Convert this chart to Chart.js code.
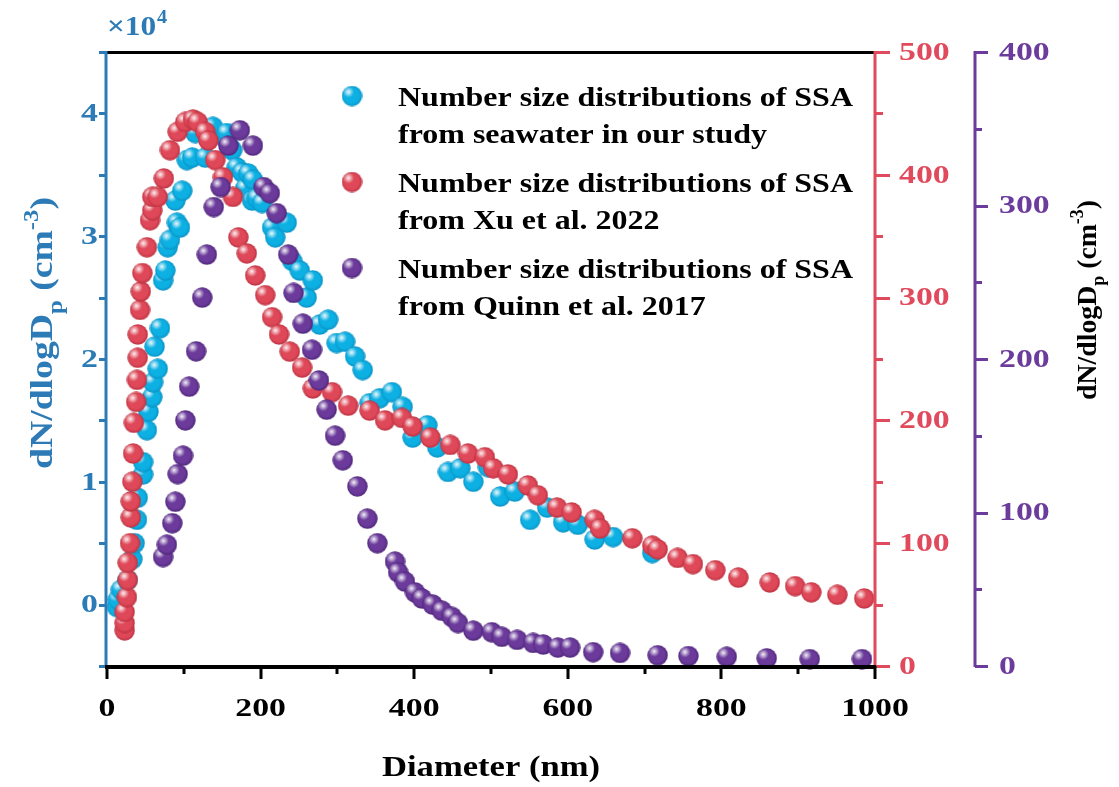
<!DOCTYPE html>
<html>
<head>
<meta charset="utf-8">
<script src="https://cdn.jsdelivr.net/npm/chart.js@4.4.1/dist/chart.umd.min.js"></script>
<style>
  html, body { margin: 0; padding: 0; background: #fff; }
</style>
</head>
<body>
<canvas id="sizeChart" width="1119" height="787"></canvas>
<script>
// SSA number size distributions (dN/dlogDp vs diameter)
// this study -> left axis (x10^4 cm-3), Xu 2022 -> red axis, Quinn 2017 -> purple axis
const seaDiam = [13, 14, 18, 27, 33, 36, 39, 40, 47, 47, 52, 54, 59, 60, 66, 62, 69, 73, 76, 79,
  82, 89, 91, 95, 98, 104, 111, 115, 128, 138, 154, 156, 160, 163, 169, 176, 180, 184, 189, 190,
  195, 202, 215, 219, 234, 241, 251, 260, 268, 277, 288, 299, 310, 323, 333, 342, 355, 371, 385, 398,
  417, 430, 444, 460, 477, 496, 512, 531, 551, 573, 594, 613, 635, 659, 710];
const seaConc = [-0.02, 0.04, 0.12, 0.20, 0.37, 0.50, 0.69, 0.87, 1.06, 1.16, 1.42, 1.57, 1.69, 1.81, 1.92, 2.10, 2.25, 2.64, 2.72, 2.91,
  2.97, 3.29, 3.11, 3.07, 3.37, 3.62, 3.64, 3.84, 3.64, 3.89, 3.80, 3.84, 3.72, 3.70, 3.56, 3.52, 3.39, 3.51, 3.29, 3.46,
  3.31, 3.27, 3.07, 2.99, 3.11, 2.80, 2.72, 2.50, 2.64, 2.28, 2.32, 2.13, 2.14, 2.02, 1.91, 1.64, 1.68, 1.73, 1.61, 1.36,
  1.46, 1.28, 1.08, 1.11, 1.00, 1.12, 0.88, 0.92, 0.69, 0.79, 0.67, 0.65, 0.53, 0.55, 0.42];

const xuDiam = [23, 23, 23, 26, 27, 27, 30, 31, 31, 33, 34, 35, 38, 39, 40, 40, 43, 44, 46, 52,
  56, 59, 59, 66, 74, 82, 92, 102, 112, 118, 128, 132, 141, 151, 164, 171, 182, 193, 206, 215,
  224, 238, 254, 268, 293, 314, 342, 362, 384, 398, 421, 447, 470, 492, 503, 522, 548, 561, 586, 605,
  635, 642, 684, 710, 717, 743, 763, 792, 822, 863, 896, 917, 951, 986];
const xuConc = [29, 35, 44, 56, 70, 84, 100, 121, 134, 150, 173, 198, 215, 233, 251, 270, 290, 305, 320, 341,
  363, 371, 382, 382, 397, 420, 435, 443, 445, 443, 435, 428, 412, 398, 382, 349, 336, 318, 302, 284,
  270, 256, 243, 226, 223, 212, 208, 200, 202, 195, 186, 180, 173, 170, 161, 156, 147, 139, 129, 125,
  119, 112, 104, 98, 95, 88, 83, 78, 72, 68, 65, 60, 58, 55];

const quinnDiam = [73, 78, 85, 89, 92, 99, 102, 107, 116, 124, 130, 139, 148, 158, 173, 190, 204, 212, 221, 236,
  243, 255, 267, 276, 286, 297, 307, 326, 339, 352, 375, 379, 388, 401, 410, 424, 436, 449, 457, 477,
  501, 514, 534, 555, 568, 587, 603, 633, 668, 717, 757, 807, 859, 915, 983];
const quinnConc = [71, 79, 93, 107, 125, 137, 160, 182, 205, 240, 268, 299, 312, 339, 349, 339, 312, 308, 295, 268,
  243, 223, 206, 186, 167, 150, 134, 117, 96, 80, 68, 61, 55, 48, 44, 40, 36, 32, 28, 23,
  22, 19, 17, 15, 14, 12, 12, 9, 8.5, 7, 6.5, 6, 5, 4.5, 4.5];

// axis ticks
const xTicks = [0, 200, 400, 600, 800, 1000];
const xMinor = [100, 300, 500, 700, 900];
const seaTicks = [0, 1, 2, 3, 4];
const seaMinor = [-0.5, 0.5, 1.5, 2.5, 3.5, 4.5];
const xuTicks = [0, 100, 200, 300, 400, 500];
const xuMinor = [50, 150, 250, 350, 450];
const quinnTicks = [0, 100, 200, 300, 400];
const quinnMinor = [50, 150, 250, 350];

const legendLines = [
  ['Number size distributions of SSA', 'from seawater in our study'],
  ['Number size distributions of SSA', 'from Xu et al. 2022'],
  ['Number size distributions of SSA', 'from Quinn et al. 2017']
];

const SEA_AXIS = '#2C7BB6';
const XU_AXIS = '#E04A5C';
const QUINN_AXIS = '#6B3C9B';
const SERIF = '"Liberation Serif", "Times New Roman", serif';

// shiny ball marker
function makeBall(base, shade) {
  const d = 21, r = d / 2;
  const c = document.createElement('canvas');
  c.width = d; c.height = d;
  const g = c.getContext('2d');
  const body = g.createRadialGradient(r - 2, r - 2, 1, r, r, r);
  body.addColorStop(0, base);
  body.addColorStop(0.7, base);
  body.addColorStop(1, shade);
  g.fillStyle = body;
  g.beginPath(); g.arc(r, r, r - 0.3, 0, Math.PI * 2); g.fill();
  const hl = g.createRadialGradient(r - 3.5, r - 4, 0, r - 3.5, r - 4, 5.5);
  hl.addColorStop(0, 'rgba(255,255,255,0.95)');
  hl.addColorStop(0.35, 'rgba(255,255,255,0.6)');
  hl.addColorStop(1, 'rgba(255,255,255,0)');
  g.fillStyle = hl;
  g.beginPath(); g.arc(r, r, r - 0.3, 0, Math.PI * 2); g.fill();
  return c;
}

const seaBall = makeBall('#0DB0E3', '#0A8FC2');
const xuBall = makeBall('#DF4858', '#B8303F');
const quinnBall = makeBall('#6B3A9B', '#4C2477');

function toPoints(xs, ys) {
  return xs.map((x, i) => ({ x: x, y: ys[i] }));
}

// text squeezed/stretched horizontally
function wideText(ctx, text, x, y, align, sx) {
  ctx.save();
  ctx.translate(x, y);
  ctx.scale(sx, 1);
  ctx.textAlign = align;
  ctx.fillText(text, 0, 0);
  ctx.restore();
}

// dN/dlogDp (cm-3) with subscript and superscript
function richTitle(ctx, cx, cy, size, length, color) {
  const parts = [
    { t: 'dN/dlogD', k: 1, dy: 0 },
    { t: 'p', k: 0.65, dy: 0.3 },
    { t: ' (cm', k: 1, dy: 0 },
    { t: '-3', k: 0.65, dy: -0.45 },
    { t: ')', k: 1, dy: 0 }
  ];
  ctx.save();
  ctx.fillStyle = color;
  ctx.textBaseline = 'alphabetic';
  ctx.textAlign = 'left';
  let total = 0;
  parts.forEach(p => {
    ctx.font = 'bold ' + Math.round(size * p.k) + 'px ' + SERIF;
    p.w = ctx.measureText(p.t).width;
    total += p.w;
  });
  const sx = length / total;
  ctx.translate(cx, cy);
  ctx.rotate(-Math.PI / 2);
  ctx.scale(sx, 1);
  let pos = -total / 2;
  parts.forEach(p => {
    ctx.font = 'bold ' + Math.round(size * p.k) + 'px ' + SERIF;
    ctx.fillText(p.t, pos, size * 0.35 + p.dy * size);
    pos += p.w;
  });
  ctx.restore();
}

function vTicks(ctx, scale, values, x, len) {
  ctx.beginPath();
  values.forEach(v => {
    const p = Math.round(scale.getPixelForValue(v)) + 0.5;
    ctx.moveTo(x, p); ctx.lineTo(x + len, p);
  });
  ctx.stroke();
}

const axisDecor = {
  id: 'axisDecor',
  afterDatasetsDraw(chart) {
    const { ctx, chartArea: a, scales } = chart;
    const sx = scales.x, ys = scales.ySea, yx = scales.yXu, yq = scales.yQuinn;
    const tickSx = 1.3;
    ctx.save();
    ctx.lineCap = 'butt';

    // top frame
    ctx.strokeStyle = '#000'; ctx.lineWidth = 3;
    ctx.beginPath(); ctx.moveTo(a.left, a.top + 0.5); ctx.lineTo(a.right, a.top + 0.5); ctx.stroke();

    // left axis (this study)
    ctx.strokeStyle = SEA_AXIS; ctx.lineWidth = 3;
    ctx.beginPath(); ctx.moveTo(a.left - 1, a.top - 1); ctx.lineTo(a.left - 1, a.bottom); ctx.stroke();
    vTicks(ctx, ys, seaTicks.concat(seaMinor), a.left - 1, -7);
    ctx.fillStyle = SEA_AXIS;
    ctx.font = 'bold 26px ' + SERIF;
    ctx.textBaseline = 'middle';
    seaTicks.forEach(v => wideText(ctx, String(v), 98, ys.getPixelForValue(v) + 1, 'right', tickSx));
    // x10^4 multiplier
    ctx.textBaseline = 'alphabetic';
    ctx.font = 'bold 28px ' + SERIF;
    wideText(ctx, '\u00d710', 107, 35, 'left', 1.12);
    ctx.font = 'bold 18px ' + SERIF;
    wideText(ctx, '4', 157, 23, 'left', 1.12);

    // red axis (Xu et al.)
    const xr = a.right;
    ctx.strokeStyle = XU_AXIS; ctx.lineWidth = 3;
    ctx.beginPath(); ctx.moveTo(xr, a.top - 1); ctx.lineTo(xr, a.bottom + 2); ctx.stroke();
    vTicks(ctx, yx, xuTicks, xr, 15);
    vTicks(ctx, yx, xuMinor, xr, 8);
    ctx.fillStyle = XU_AXIS;
    ctx.font = 'bold 26px ' + SERIF;
    ctx.textBaseline = 'middle';
    xuTicks.forEach(v => wideText(ctx, String(v), 899, yx.getPixelForValue(v) + 1, 'left', tickSx));

    // purple axis (Quinn et al.)
    const xp = 975;
    ctx.strokeStyle = QUINN_AXIS; ctx.lineWidth = 3;
    ctx.beginPath(); ctx.moveTo(xp, a.top - 1); ctx.lineTo(xp, a.bottom + 1); ctx.stroke();
    vTicks(ctx, yq, quinnTicks, xp, 13);
    vTicks(ctx, yq, quinnMinor, xp, 7);
    ctx.fillStyle = QUINN_AXIS;
    quinnTicks.forEach(v => wideText(ctx, String(v), 999, yq.getPixelForValue(v) + 1, 'left', tickSx));

    // bottom axis
    ctx.strokeStyle = '#000'; ctx.lineWidth = 4;
    ctx.beginPath(); ctx.moveTo(a.left - 2, a.bottom + 1); ctx.lineTo(a.right + 1, a.bottom + 1); ctx.stroke();
    ctx.lineWidth = 3;
    ctx.beginPath();
    xTicks.forEach(v => {
      const p = Math.round(sx.getPixelForValue(v));
      ctx.moveTo(p, a.bottom); ctx.lineTo(p, a.bottom + 13);
    });
    xMinor.forEach(v => {
      const p = Math.round(sx.getPixelForValue(v));
      ctx.moveTo(p, a.bottom); ctx.lineTo(p, a.bottom + 8);
    });
    ctx.stroke();
    ctx.fillStyle = '#000';
    ctx.font = 'bold 26px ' + SERIF;
    xTicks.forEach(v => wideText(ctx, String(v), sx.getPixelForValue(v), 709, 'center', tickSx));

    // axis titles
    ctx.font = 'bold 30px ' + SERIF;
    const dw = ctx.measureText('Diameter (nm)').width;
    ctx.textBaseline = 'alphabetic';
    wideText(ctx, 'Diameter (nm)', 491, 776, 'center', 218 / dw);
    richTitle(ctx, 41, 333, 32, 272, SEA_AXIS);
    richTitle(ctx, 1086, 300, 28, 200, '#000');

    // legend
    const balls = [seaBall, xuBall, quinnBall];
    const markY = [96, 182, 268];
    ctx.font = 'bold 27px ' + SERIF;
    const lsx = 455 / ctx.measureText(legendLines[0][0]).width;
    ctx.fillStyle = '#000';
    legendLines.forEach((lines, i) => {
      ctx.drawImage(balls[i], 352 - balls[i].width / 2, markY[i] - balls[i].height / 2);
      wideText(ctx, lines[0], 398, markY[i] + 10, 'left', lsx);
      wideText(ctx, lines[1], 398, markY[i] + 47, 'left', lsx);
    });
    ctx.restore();
  }
};

new Chart(document.getElementById('sizeChart'), {
  type: 'scatter',
  data: {
    datasets: [
      {
        label: 'Number size distributions of SSA from seawater in our study',
        data: toPoints(seaDiam, seaConc),
        yAxisID: 'ySea',
        pointStyle: seaBall,
        pointRadius: 10,
        order: 3,
        clip: false
      },
      {
        label: 'Number size distributions of SSA from Xu et al. 2022',
        data: toPoints(xuDiam, xuConc),
        yAxisID: 'yXu',
        pointStyle: xuBall,
        pointRadius: 10,
        order: 2,
        clip: false
      },
      {
        label: 'Number size distributions of SSA from Quinn et al. 2017',
        data: toPoints(quinnDiam, quinnConc),
        yAxisID: 'yQuinn',
        pointStyle: quinnBall,
        pointRadius: 10,
        order: 1,
        clip: false
      }
    ]
  },
  options: {
    responsive: false,
    devicePixelRatio: 1,
    animation: false,
    layout: { padding: { left: 107, top: 52, right: 244, bottom: 121 } },
    plugins: {
      legend: { display: false },
      tooltip: { enabled: false }
    },
    scales: {
      x: { type: 'linear', min: 0, max: 1000, display: false },
      ySea: { type: 'linear', position: 'left', min: -0.5, max: 4.5, display: false },
      yXu: { type: 'linear', position: 'right', min: 0, max: 500, display: false },
      yQuinn: { type: 'linear', position: 'right', min: 0, max: 400, display: false }
    }
  },
  plugins: [axisDecor]
});
</script>
</body>
</html>
